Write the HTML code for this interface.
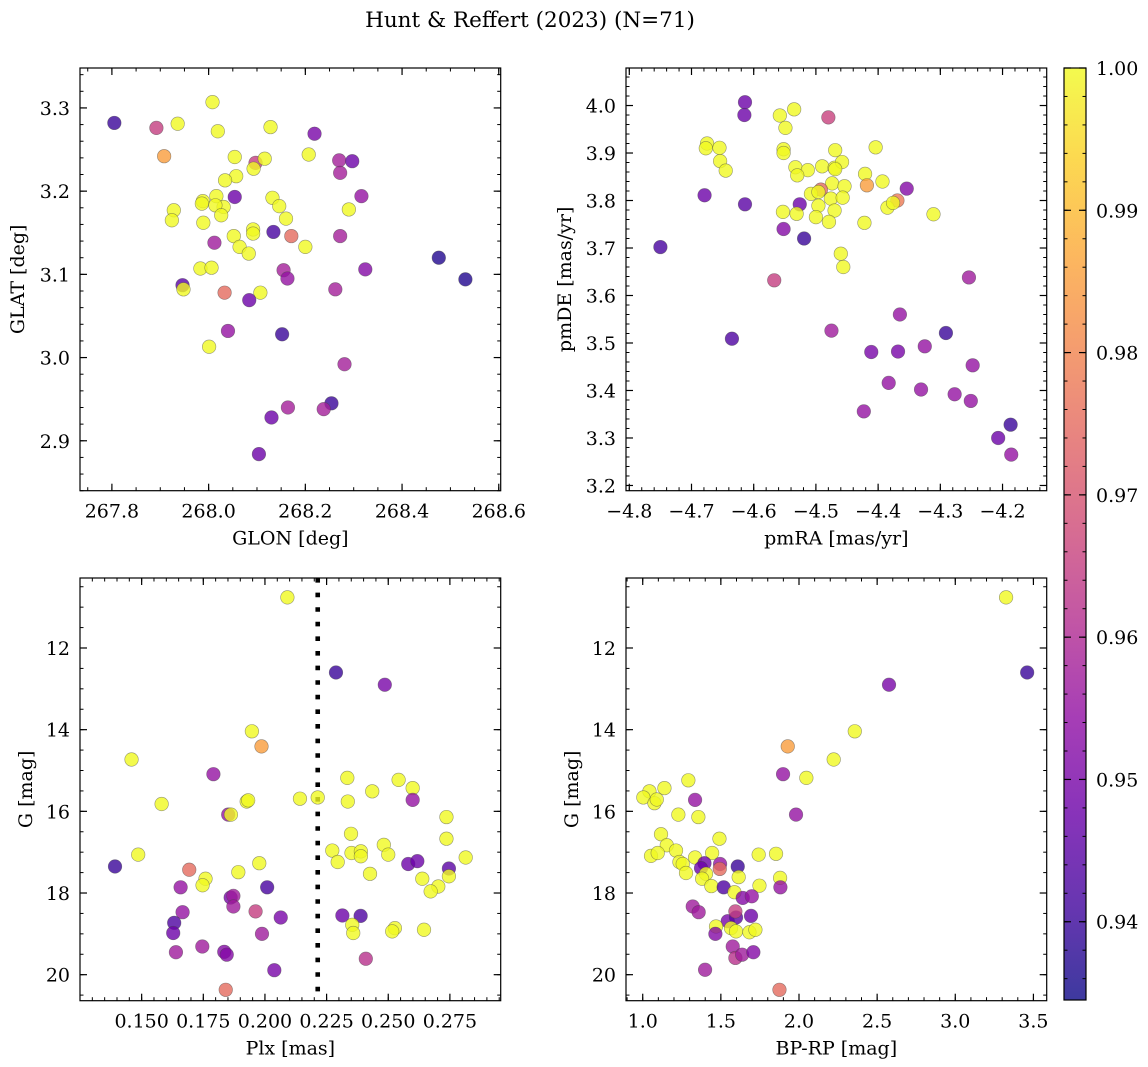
<!DOCTYPE html>
<html><head><meta charset="utf-8"><style>
html,body{margin:0;padding:0;background:#fff;}
svg{display:block;font-family:"DejaVu Serif","Liberation Serif",serif;}
</style></head><body>
<svg id="fig" width="1148" height="1067" viewBox="0 0 1148 1067" xmlns="http://www.w3.org/2000/svg">
<defs>
<linearGradient id="plasma" x1="0" y1="1" x2="0" y2="0">
<stop offset="0" stop-color="#0d0887"/><stop offset="0.1" stop-color="#41049d"/><stop offset="0.2" stop-color="#6a00a8"/><stop offset="0.3" stop-color="#8f0da4"/><stop offset="0.4" stop-color="#b12a90"/><stop offset="0.5" stop-color="#cc4778"/><stop offset="0.6" stop-color="#e16462"/><stop offset="0.7" stop-color="#f2844b"/><stop offset="0.8" stop-color="#fca636"/><stop offset="0.9" stop-color="#fcce25"/><stop offset="1" stop-color="#f0f921"/>
</linearGradient>
</defs>
<text x="530" y="27" font-size="21.5" text-anchor="middle">Hunt &amp; Reffert (2023) (N=71)</text>
</svg>
<script>
// Panel 1: GLON / GLAT
const glon=[267.805,267.892,267.936,268.008,268.019,268.128,268.219,267.908,268.054,268.097,268.116,268.093,268.207,268.270,268.297,268.272,268.057,268.034,268.054,268.316,267.988,268.016,267.986,268.031,268.014,268.026,267.928,267.924,268.132,268.146,268.160,268.290,267.989,268.134,268.171,268.272,268.092,268.092,268.012,268.052,268.064,268.083,268.200,268.476,268.531,268.324,268.155,268.163,267.983,268.006,267.946,267.948,268.033,268.107,268.084,268.262,268.040,268.152,268.001,268.281,268.254,268.238,268.164,268.130,268.104];
const glat=[3.282,3.276,3.281,3.307,3.272,3.277,3.269,3.242,3.241,3.234,3.239,3.227,3.244,3.237,3.236,3.222,3.218,3.213,3.193,3.194,3.188,3.194,3.185,3.181,3.183,3.171,3.177,3.165,3.192,3.182,3.167,3.178,3.162,3.151,3.146,3.146,3.154,3.149,3.138,3.146,3.133,3.125,3.133,3.120,3.094,3.106,3.105,3.095,3.107,3.108,3.087,3.082,3.078,3.078,3.069,3.082,3.032,3.028,3.013,2.992,2.945,2.938,2.940,2.928,2.884];
const prob1=[0.94,0.965,1,1,1,1,0.95,0.985,1,0.965,1,1,1,0.958,0.948,0.958,1,1,0.948,0.955,1,1,1,1,1,1,1,1,1,1,1,1,1,0.942,0.975,0.958,1,1,0.957,1,1,1,1,0.937,0.937,0.952,0.958,0.955,1,1,0.945,1,0.975,1,0.948,0.958,0.955,0.94,1,0.958,0.94,0.958,0.958,0.948,0.948];
// Panel 2: pmRA / pmDE
const pmra=[-4.614,-4.615,-4.480,-4.558,-4.535,-4.549,-4.675,-4.677,-4.655,-4.552,-4.552,-4.469,-4.404,-4.654,-4.645,-4.533,-4.513,-4.490,-4.470,-4.458,-4.469,-4.530,-4.421,-4.418,-4.393,-4.354,-4.474,-4.454,-4.492,-4.508,-4.496,-4.476,-4.457,-4.679,-4.614,-4.526,-4.369,-4.385,-4.376,-4.496,-4.553,-4.531,-4.470,-4.500,-4.479,-4.422,-4.311,-4.552,-4.519,-4.750,-4.460,-4.456,-4.567,-4.254,-4.365,-4.291,-4.475,-4.635,-4.325,-4.411,-4.368,-4.248,-4.383,-4.331,-4.277,-4.251,-4.423,-4.187,-4.207,-4.186];
const pmde=[4.007,3.980,3.975,3.979,3.992,3.953,3.920,3.910,3.911,3.908,3.900,3.906,3.912,3.883,3.863,3.870,3.864,3.872,3.869,3.881,3.866,3.853,3.856,3.832,3.840,3.825,3.836,3.830,3.823,3.814,3.818,3.804,3.806,3.811,3.792,3.792,3.800,3.785,3.795,3.789,3.776,3.772,3.779,3.765,3.755,3.753,3.771,3.740,3.720,3.702,3.688,3.660,3.632,3.638,3.560,3.521,3.526,3.509,3.493,3.481,3.482,3.453,3.416,3.402,3.392,3.378,3.356,3.328,3.300,3.265];
const prob2=[0.948,0.948,0.966,1,1,1,1,1,1,1,1,1,1,1,1,1,1,1,1,1,1,1,1,0.985,1,0.952,1,1,0.975,1,1,1,1,0.948,0.945,0.948,0.978,1,1,1,1,1,1,1,1,1,1,0.952,0.94,0.942,1,1,0.965,0.957,0.955,0.94,0.957,0.943,0.955,0.95,0.95,0.955,0.955,0.955,0.955,0.955,0.955,0.94,0.948,0.955];
// Panel 3: Plx / G
const plx=[0.2091,0.2288,0.2486,0.1947,0.1986,0.1459,0.1791,0.1581,0.1926,0.1932,0.2142,0.2214,0.2334,0.2336,0.2435,0.2542,0.2599,0.2599,0.1851,0.1862,0.2736,0.2736,0.2349,0.2273,0.2351,0.2389,0.2389,0.2482,0.2500,0.2295,0.1486,0.1392,0.1977,0.1693,0.1759,0.1747,0.1892,0.2426,0.2581,0.2618,0.2746,0.2746,0.2814,0.2638,0.2703,0.2672,0.1658,0.2009,0.1861,0.1872,0.1872,0.1666,0.1962,0.2064,0.2314,0.2388,0.1632,0.1628,0.2354,0.2358,0.2527,0.2516,0.2645,0.1988,0.1639,0.1746,0.1835,0.1845,0.2409,0.2038,0.1841];
const gmag3=[10.76,12.60,12.90,14.04,14.41,14.73,15.09,15.82,15.76,15.73,15.69,15.66,15.18,15.76,15.51,15.23,15.43,15.72,16.08,16.08,16.14,16.67,16.55,16.96,17.02,16.98,17.10,16.82,17.06,17.24,17.06,17.35,17.27,17.43,17.65,17.81,17.49,17.53,17.29,17.22,17.40,17.59,17.13,17.65,17.84,17.96,17.86,17.86,18.11,18.07,18.33,18.47,18.45,18.60,18.55,18.56,18.73,18.98,18.78,18.98,18.86,18.94,18.90,19.00,19.45,19.31,19.44,19.51,19.61,19.89,20.37];
const prob3=[1,0.94,0.95,1,0.985,1,0.955,1,1,1,1,1,1,1,1,1,1,0.955,0.955,1,1,1,1,1,1,1,1,1,1,1,1,0.94,1,0.975,1,1,1,1,0.948,0.948,0.945,1,1,1,1,1,0.955,0.942,0.95,0.957,0.957,0.955,0.965,0.95,0.948,0.943,0.943,0.948,1,1,1,1,1,0.957,0.957,0.957,0.952,0.952,0.962,0.95,0.975];
const plxCut=[0.2214];
// Panel 4: BP-RP / G
const bprp=[3.325,3.460,2.576,2.357,1.928,2.222,1.898,2.047,1.292,1.139,1.043,1.004,1.075,1.090,1.335,1.981,1.228,1.356,1.491,1.117,1.154,1.053,1.096,1.213,1.235,1.256,1.335,1.444,1.395,1.373,1.495,1.493,1.608,1.742,1.853,1.277,1.405,1.380,1.614,1.879,1.881,1.439,1.518,1.747,1.587,1.640,1.698,1.320,1.358,1.544,1.597,1.593,1.693,1.469,1.465,1.565,1.597,1.683,1.721,1.576,1.593,1.636,1.708,1.399,1.875];
const gmag4=[10.76,12.60,12.90,14.04,14.41,14.73,15.09,15.18,15.24,15.43,15.51,15.66,15.80,15.71,15.72,16.08,16.08,16.14,16.67,16.56,16.83,17.09,17.02,16.96,17.24,17.29,17.13,17.02,17.27,17.39,17.29,17.41,17.35,17.06,17.04,17.51,17.53,17.65,17.61,17.63,17.86,17.83,17.86,17.82,17.98,18.12,18.08,18.33,18.47,18.69,18.60,18.45,18.56,18.82,19.00,18.86,18.94,18.96,18.90,19.31,19.59,19.51,19.45,19.88,20.37];
const prob4=[1,0.94,0.95,1,0.985,1,0.955,1,1,1,1,1,1,1,0.955,0.955,1,1,1,1,1,1,1,1,1,1,1,1,0.948,0.948,0.955,0.975,0.94,1,1,1,1,1,1,1,0.955,1,0.943,1,1,0.952,0.955,0.957,0.957,0.95,0.945,0.965,0.948,1,0.952,1,1,1,1,0.957,0.962,0.957,0.952,0.957,0.975];
// tick labels
const p1xt=[267.8,268.0,268.2,268.4,268.6], p1yt=[2.9,3.0,3.1,3.2,3.3];
const p2xt=[-4.8,-4.7,-4.6,-4.5,-4.4,-4.3,-4.2], p2yt=[3.2,3.3,3.4,3.5,3.6,3.7,3.8,3.9,4.0];
const p3xt=[0.150,0.175,0.200,0.225,0.250,0.275], gyt=[12,14,16,18,20];
const p4xt=[1.0,1.5,2.0,2.5,3.0,3.5];
const cbt=[0.94,0.95,0.96,0.97,0.98,0.99,1.00];
const VMIN=0.9345, VMAX=1.0;

const NS="http://www.w3.org/2000/svg";
const svg=document.getElementById('fig');
const FS=19;
const stops=[[13,8,135],[65,4,157],[106,0,168],[143,13,164],[177,42,144],[204,71,120],[225,100,98],[242,132,75],[252,166,54],[252,206,37],[240,249,33]];
function plasma(v){let t=(v-VMIN)/(VMAX-VMIN);t=Math.max(0,Math.min(1,t))*10;const i=Math.min(9,Math.floor(t)),f=t-i;const a=stops[i],b=stops[i+1];return 'rgb('+a.map((c,k)=>Math.round(c+(b[k]-c)*f)).join(',')+')';}
function el(tag,attrs,parent){const e=document.createElementNS(NS,tag);for(const k in attrs)e.setAttribute(k,attrs[k]);(parent||svg).appendChild(e);return e;}
function fmt(v,d){return (v<0?'\u2212':'')+Math.abs(v).toFixed(d);}

function panel(cfg){
  const g=el('g',{});
  
  
  const sx=v=>cfg.x0+(v-cfg.xd[0])/(cfg.xd[1]-cfg.xd[0])*(cfg.x1-cfg.x0);
  const sy=v=>cfg.y0+(v-cfg.yd[0])/(cfg.yd[1]-cfg.yd[0])*(cfg.y1-cfg.y0);
  if(cfg.vline){
    const l=el('line',{x1:sx(cfg.vline[0]),x2:sx(cfg.vline[0]),y1:cfg.y0,y2:cfg.y1,stroke:'#000','stroke-width':4.6,'stroke-dasharray':'4.6 10'},g);
    
    
  }
  for(let i=0;i<cfg.xs.length;i++){
    const c=el('circle',{cx:sx(cfg.xs[i]),cy:sy(cfg.ys[i]),r:6.8,fill:plasma(cfg.c[i]),'fill-opacity':0.8,stroke:'rgba(70,70,70,0.55)','stroke-width':0.6},g);
    
    
  }
  const fr=el('rect',{x:cfg.x0,y:cfg.y0,width:cfg.x1-cfg.x0,height:cfg.y1-cfg.y0,fill:'none',stroke:'#000','stroke-width':1.2},g);
  
  
  const lo=Math.min(...cfg.xd),hi=Math.max(...cfg.xd);
  for(let v=Math.ceil(lo/cfg.xm-1e-6)*cfg.xm;v<=hi;v+=cfg.xm){const x=sx(v);el('line',{x1:x,x2:x,y1:cfg.y1,y2:cfg.y1-3.5,stroke:'#000','stroke-width':1},g);el('line',{x1:x,x2:x,y1:cfg.y0,y2:cfg.y0+3.5,stroke:'#000','stroke-width':1},g);}
  const ylo=Math.min(...cfg.yd),yhi=Math.max(...cfg.yd);
  for(let v=Math.ceil(ylo/cfg.ym-1e-6)*cfg.ym;v<=yhi;v+=cfg.ym){const y=sy(v);el('line',{x1:cfg.x0,x2:cfg.x0+3.5,y1:y,y2:y,stroke:'#000','stroke-width':1},g);el('line',{x1:cfg.x1,x2:cfg.x1-3.5,y1:y,y2:y,stroke:'#000','stroke-width':1},g);}
  cfg.xt.forEach(v=>{const x=sx(v);el('line',{x1:x,x2:x,y1:cfg.y1,y2:cfg.y1-7,stroke:'#000','stroke-width':1.2},g);el('line',{x1:x,x2:x,y1:cfg.y0,y2:cfg.y0+7,stroke:'#000','stroke-width':1.2},g);
    const t=el('text',{x:x,y:cfg.y1+27,'font-size':FS,'text-anchor':'middle'},g);t.textContent=fmt(v,cfg.xdec);
    
    });
  cfg.yt.forEach(v=>{const y=sy(v);el('line',{x1:cfg.x0,x2:cfg.x0+7,y1:y,y2:y,stroke:'#000','stroke-width':1.2},g);el('line',{x1:cfg.x1,x2:cfg.x1-7,y1:y,y2:y,stroke:'#000','stroke-width':1.2},g);
    const t=el('text',{x:cfg.x0-10,y:y+7,'font-size':FS,'text-anchor':'end'},g);t.textContent=fmt(v,cfg.ydec);
    
    });
  const xl=el('text',{x:(cfg.x0+cfg.x1)/2,y:cfg.y1+54,'font-size':FS,'text-anchor':'middle'},g);xl.textContent=cfg.xlabel;
  
  
  const yx=cfg.ylx, yy=(cfg.y0+cfg.y1)/2;
  const yl=el('text',{x:yx,y:yy,'font-size':FS,'text-anchor':'middle',transform:'rotate(-90 '+yx+' '+yy+')'},g);yl.textContent=cfg.ylabel;
  
  
}
panel({name:'glon-glat-panel',x0:80,x1:500.7,y0:68,y1:490.7,xd:[267.734,268.604],yd:[3.348,2.840],xs:glon,ys:glat,c:prob1,xt:p1xt,yt:p1yt,xm:0.05,ym:0.02,xdec:1,ydec:1,xlabel:'GLON [deg]',ylabel:'GLAT [deg]',ylx:24});
panel({name:'pm-panel',x0:626,x1:1046.7,y0:68,y1:490.7,xd:[-4.8053,-4.129],yd:[4.079,3.189],xs:pmra,ys:pmde,c:prob2,xt:p2xt,yt:p2yt,xm:0.02,ym:0.02,xdec:1,ydec:1,xlabel:'pmRA [mas/yr]',ylabel:'pmDE [mas/yr]',ylx:571});
panel({name:'plx-g-panel',x0:80,x1:500.7,y0:578,y1:1000.7,xd:[0.125,0.2956],yd:[10.286,20.637],xs:plx,ys:gmag3,c:prob3,xt:p3xt,yt:gyt,xm:0.005,ym:0.5,xdec:3,ydec:0,xlabel:'Plx [mas]',ylabel:'G [mag]',ylx:32,vline:plxCut});
panel({name:'cmd-panel',x0:626,x1:1046.7,y0:578,y1:1000.7,xd:[0.893,3.585],yd:[10.286,20.637],xs:bprp,ys:gmag4,c:prob4,xt:p4xt,yt:gyt,xm:0.1,ym:0.5,xdec:1,ydec:0,xlabel:'BP-RP [mag]',ylabel:'G [mag]',ylx:578});

// colorbar
const cb=el('g',{});


const CX0=1064,CX1=1086,CY0=68,CY1=1000;
el('rect',{x:CX0,y:CY0,width:CX1-CX0,height:CY1-CY0,fill:'url(#plasma)','fill-opacity':0.8},cb);
el('rect',{x:CX0,y:CY0,width:CX1-CX0,height:CY1-CY0,fill:'none',stroke:'#000','stroke-width':1.2},cb);
const cy=v=>CY0+(VMAX-v)/(VMAX-VMIN)*(CY1-CY0);
for(let v=0.936;v<=1.0001;v+=0.002){const y=cy(v);el('line',{x1:CX1,x2:CX1-3.5,y1:y,y2:y,stroke:'#000','stroke-width':1},cb);el('line',{x1:CX0,x2:CX0+3.5,y1:y,y2:y,stroke:'#000','stroke-width':1},cb);}
cbt.forEach(v=>{const y=cy(v);el('line',{x1:CX1,x2:CX1-7,y1:y,y2:y,stroke:'#000','stroke-width':1.2},cb);el('line',{x1:CX0,x2:CX0+7,y1:y,y2:y,stroke:'#000','stroke-width':1.2},cb);
  const t=el('text',{x:CX1+10,y:y+7,'font-size':FS},cb);t.textContent=v.toFixed(2);
  
  });
</script>
</body></html>
